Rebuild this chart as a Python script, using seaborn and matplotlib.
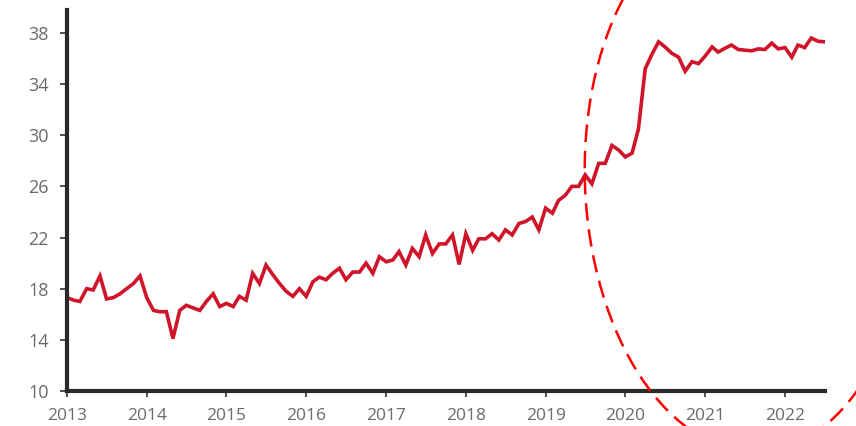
import matplotlib
matplotlib.use("Agg")
import matplotlib.pyplot as plt
import pandas as pd
import seaborn as sns
from matplotlib.patches import Ellipse
from matplotlib.transforms import IdentityTransform

# Monthly series, January 2013 onwards
values = [
    17.3, 17.1, 17.0, 18.0, 17.9, 19.0, 17.2, 17.3, 17.6, 18.0, 18.4, 19.0,
    17.3, 16.3, 16.2, 16.2, 14.1, 16.3, 16.7, 16.5, 16.3, 17.0, 17.6, 16.6,
    16.85, 16.6, 17.4, 17.1, 19.2, 18.4, 19.85, 19.1, 18.4, 17.8, 17.4, 18.0,
    17.4, 18.55, 18.9, 18.7, 19.2, 19.6, 18.7, 19.3, 19.3, 20.0, 19.2, 20.5,
    20.1, 20.25, 20.9, 19.85, 21.15, 20.5, 22.2, 20.75, 21.5, 21.5, 22.2, 19.9,
    22.3, 21.0, 21.9, 21.9, 22.3, 21.8, 22.6, 22.2, 23.1, 23.25, 23.6, 22.6,
    24.3, 23.9, 24.9, 25.3, 26.0, 26.0, 26.9, 26.2, 27.8, 27.8, 29.2, 28.85,
    28.3, 28.6, 30.5, 35.2, 36.3, 37.3, 36.9, 36.4, 36.1, 35.0, 35.75, 35.6,
    36.2, 36.9, 36.5, 36.8, 37.05, 36.7, 36.65, 36.6, 36.75, 36.7, 37.2, 36.75,
    36.85, 36.1, 37.05, 36.85, 37.6, 37.35, 37.3,
]
start_month = "2013-01-01"
years = [2013, 2014, 2015, 2016, 2017, 2018, 2019, 2020, 2021, 2022]
y_ticks = [10, 14, 18, 22, 26, 30, 34, 38]

dates = pd.date_range(start_month, periods=len(values), freq="MS")
df = pd.DataFrame({"date": dates, "value": values})

sns.set_theme(style="ticks")
plt.rcParams["font.family"] = ["Open Sans", "DejaVu Sans"]

W, H = 856, 426
fig = plt.figure(figsize=(W / 100, H / 100), dpi=100)
fig.patch.set_facecolor("white")
ax = fig.add_axes([67 / W, 35 / H, 758 / W, 381 / H])

sns.lineplot(data=df, x="date", y="value", ax=ax, color="#d0142a",
             linewidth=2.6, solid_joinstyle="miter")

ax.set_ylim(10, 39.79)
ax.set_xlim(pd.Timestamp("2013-01-01"), pd.Timestamp("2022-07-03"))
ax.set_yticks(y_ticks)
ax.set_yticklabels([str(v) for v in y_ticks])
ax.set_xticks([pd.Timestamp(f"{y}-01-01") for y in years])
ax.set_xticklabels([str(y) for y in years])
ax.set_xlabel("")
ax.set_ylabel("")

for side in ("top", "right"):
    ax.spines[side].set_visible(False)
for side in ("left", "bottom"):
    ax.spines[side].set_color("#2a2a2a")
    ax.spines[side].set_linewidth(3.0)

ax.tick_params(axis="y", length=5, width=1.2, color="#333333", pad=8,
               labelsize=13, labelcolor="#6a6a6a")
ax.tick_params(axis="x", length=4, width=1.2, color="#333333", pad=8,
               labelsize=12.5, labelcolor="#6a6a6a")

# Dashed highlight around the post-2020 level shift (drawn in pixel units)
ring = Ellipse((748, H - 182), width=326, height=540, angle=2.5,
               transform=IdentityTransform(), fill=False, edgecolor="#ff0000",
               linewidth=1.8, linestyle=(0, (7, 3.5)), clip_on=False)
fig.add_artist(ring)

fig.savefig("out.png", dpi=100)
